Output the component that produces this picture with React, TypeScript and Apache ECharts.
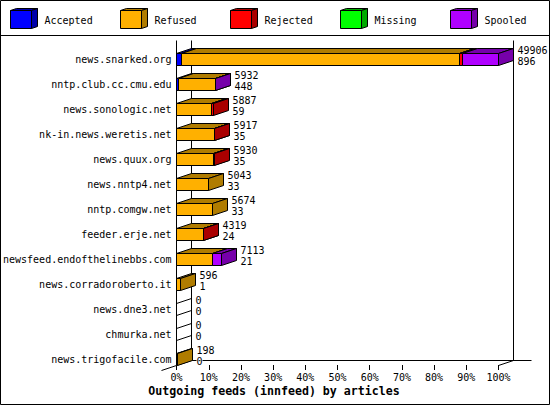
import React, { useEffect, useRef } from "react";
import * as echarts from "echarts";

const hosts = [
  "news.snarked.org", "nntp.club.cc.cmu.edu", "news.sonologic.net", "nk-in.news.weretis.net",
  "news.quux.org", "news.nntp4.net", "nntp.comgw.net", "feeder.erje.net",
  "newsfeed.endofthelinebbs.com", "news.corradoroberto.it", "news.dne3.net", "chmurka.net",
  "news.trigofacile.com",
];
const upperLabels = ["49906", "5932", "5887", "5917", "5930", "5043", "5674", "4319", "7113", "596", "0", "0", "198"];
const lowerLabels = ["896", "448", "59", "35", "35", "33", "33", "24", "21", "1", "0", "0", "0"];

const accepted = [1.6, 0.6, 0, 0, 0, 0, 0, 0, 0, 0, 0, 0, 0];
const refused = [86.2, 11.35, 10.7, 11.75, 11.4, 10.0, 11.25, 8.3, 11.1, 1.17, 0, 0, 0.39];
const rejected = [0.95, 0, 0.7, 0.1, 0.3, 0, 0, 0.1, 0, 0, 0, 0, 0];
const missing = [0, 0, 0, 0, 0, 0, 0, 0, 0, 0, 0, 0, 0];
const spooled = [11.25, 0.1, 0, 0, 0, 0, 0, 0, 2.9, 0, 0, 0, 0];

const legendNames = ["Accepted", "Refused", "Rejected", "Missing", "Spooled"];
const seriesValues = [accepted, refused, rejected, missing, spooled];
const frontColors = ["#0000ff", "#ffb000", "#ff0000", "#00ff00", "#b000ff"];
const shadeColors = ["#0000aa", "#b07c00", "#aa0000", "#00aa00", "#7600aa"];
const xTicks = { min: 0, max: 100, interval: 10 };
const titleText = "Outgoing feeds (innfeed) by articles";

const FONT = '"DejaVu Sans Mono", monospace';
const DX = 15;
const DY = 5;
const HALF = 6;
const snap = (v: number) => Math.round(v - 0.5) + 0.5;
const ink = { stroke: "#000", lineWidth: 1 };

function polygon(points: number[][], fill: string) {
  return { type: "polygon", shape: { points }, style: { fill, ...ink } };
}
function line(x1: number, y1: number, x2: number, y2: number) {
  return { type: "line", shape: { x1, y1, x2, y2 }, style: { stroke: "#000", lineWidth: 1, fill: "none" } };
}

function legendGraphics() {
  const out: any[] = [];
  legendNames.forEach((name, i) => {
    const x = 10.5 + i * 110;
    const y = 10.5;
    const w = 21;
    const h = 18;
    out.push({ type: "polygon", shape: { points: [[x, y], [x + 6, y - 2], [x + w + 6, y - 2], [x + w, y]] }, style: { fill: shadeColors[i], ...ink } });
    out.push({ type: "polygon", shape: { points: [[x + w, y], [x + w + 6, y - 2], [x + w + 6, y + h - 2], [x + w, y + h]] }, style: { fill: shadeColors[i], ...ink } });
    out.push({ type: "rect", shape: { x, y, width: w, height: h }, style: { fill: frontColors[i], ...ink } });
    out.push({ type: "text", x: x + 34, y: 20, style: { text: name, fill: "#000", font: `10px ${FONT}`, align: "left", verticalAlign: "middle" } });
  });
  return out;
}

export default function App() {
  const ref = useRef<HTMLDivElement>(null);
  useEffect(() => {
    document.body.style.margin = "0";
    const chart = echarts.init(ref.current!, undefined, { renderer: "svg" });

    const totals = hosts.map((_, r) => seriesValues.reduce((s, v) => s + v[r], 0));

    const barSeries = legendNames.map((name, si) => {
      const data = hosts.map((_, r) => {
        let start = 0;
        for (let k = 0; k < si; k++) start += seriesValues[k][r];
        return [start, start + seriesValues[si][r], r];
      });
      return {
        name,
        type: "custom",
        coordinateSystem: "cartesian2d",
        encode: { x: [0, 1], y: 2 },
        data,
        z: 3,
        renderItem: (params: any, api: any) => {
          const r = api.value(2);
          const a = api.coord([api.value(0), r]);
          const b = api.coord([api.value(1), r]);
          const x0 = snap(a[0]);
          const x1 = snap(b[0]);
          const y0 = a[1] - HALF;
          const y1 = a[1] + HALF;
          const children: any[] = [];
          if (api.value(0) === api.value(1)) {
            if (si === 1 && totals[r] === 0) {
              children.push(line(x0, y0, x0 + DX, y0 - DY), line(x0, y1, x0 + DX, y1 - DY));
            }
            return { type: "group", children };
          }
          children.push(polygon([[x0, y0], [x0 + DX, y0 - DY], [x1 + DX, y0 - DY], [x1, y0]], shadeColors[si]));
          children.push(polygon([[x1, y0], [x1 + DX, y0 - DY], [x1 + DX, y1 - DY], [x1, y1]], shadeColors[si]));
          children.push({ type: "rect", shape: { x: x0, y: y0, width: x1 - x0, height: y1 - y0 }, style: { fill: frontColors[si], ...ink } });
          return { type: "group", children };
        },
      };
    });

    const frameSeries = {
      type: "custom",
      coordinateSystem: "cartesian2d",
      encode: { x: 0, y: 1 },
      data: [[0, 0]],
      z: 2,
      silent: true,
      renderItem: (params: any, api: any) => {
        const left = snap(api.coord([xTicks.min, 0])[0]);
        const right = snap(api.coord([xTicks.max, 0])[0]);
        const bottom = api.coord([0, hosts.length - 1])[1] + HALF;
        const top = 40.5;
        return {
          type: "group",
          children: [
            line(left, top, left, bottom),
            line(left + DX, top, left + DX, bottom - DY),
            line(right + DX, top, right + DX, bottom - DY),
            line(left + DX, bottom - DY, right + DX + 18, bottom - DY),
            line(left - DX, bottom + DY, left + DX, bottom - DY),
            line(right, bottom, right + DX, bottom - DY),
          ],
        };
      },
    };

    const labelSeries = {
      type: "custom",
      coordinateSystem: "cartesian2d",
      encode: { x: 0, y: 1 },
      data: hosts.map((_, r) => [totals[r], r]),
      z: 4,
      silent: true,
      renderItem: (params: any, api: any) => {
        const r = api.value(1);
        const p = api.coord([api.value(0), r]);
        const x = snap(p[0]) + DX + 4;
        const mk = (text: string, y: number) => ({
          type: "text",
          x,
          y,
          style: { text, fill: "#000", font: `10px ${FONT}`, align: "left", verticalAlign: "middle", backgroundColor: "#fff" },
        });
        return { type: "group", children: [mk(upperLabels[r], p[1] - 9), mk(lowerLabels[r], p[1] + 2)] };
      },
    };

    chart.setOption({
      animation: false,
      backgroundColor: "#fff",
      title: {
        text: titleText,
        left: 269,
        top: 380,
        textAlign: "center",
        textStyle: { fontFamily: FONT, fontSize: 11.6, fontWeight: "bold", color: "#000" },
      },
      grid: { left: 176.5, top: 47, width: 322, height: 325, containLabel: false },
      xAxis: {
        type: "value",
        min: xTicks.min,
        max: xTicks.max,
        interval: xTicks.interval,
        offset: -7,
        axisLine: { show: false },
        axisTick: { show: true, length: 5, lineStyle: { color: "#000", width: 1 } },
        splitLine: { show: false },
        axisLabel: { formatter: "{value}%", color: "#000", fontFamily: FONT, fontSize: 10, margin: 7, hideOverlap: false },
      },
      yAxis: {
        type: "category",
        inverse: true,
        data: hosts,
        axisLine: { show: false },
        axisTick: { show: false },
        axisLabel: { color: "#000", fontFamily: FONT, fontSize: 10, margin: 5, interval: 0 },
      },
      graphic: {
        elements: [
          { type: "rect", z: 0, shape: { x: 0.5, y: 0.5, width: 549, height: 404 }, style: { fill: "none", stroke: "#000", lineWidth: 1 } },
          { type: "line", z: 0, shape: { x1: 0, y1: 35.5, x2: 550, y2: 35.5 }, style: { stroke: "#000", lineWidth: 1 } },
          ...legendGraphics(),
        ],
      },
      series: [frameSeries, ...barSeries, labelSeries],
    });
    return () => chart.dispose();
  }, []);
  return <div ref={ref} style={{ width: 550, height: 405 }} />;
}
